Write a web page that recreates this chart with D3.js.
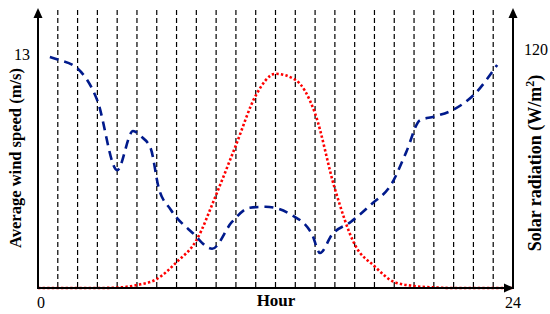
<!DOCTYPE html>
<html>
<head>
<meta charset="utf-8">
<script src="https://cdn.jsdelivr.net/npm/d3@7"></script>
<style>
body { margin: 0; background: #fff; }
svg { display: block; }
text { font-family: "Liberation Serif", "Times New Roman", serif; }
</style>
</head>
<body>
<script>
// wind speed (hour, m/s)
var windHours = [0.6, 1, 2, 3, 4, 4.8, 5.2, 5.7, 6.1, 6.7, 7.8, 8.8, 9.8, 10.7, 11.5, 12.8, 13.85, 14.25, 14.86, 15.8, 16.8, 17.9, 18.6, 19.3, 20, 21, 22, 23.2];
var windSpeed = [12.94, 12.8, 12.3, 10.5, 6.6, 8.8, 8.5, 7.8, 5.6, 4.4, 3.1, 2.2, 3.7, 4.5, 4.55, 4.1, 3.0, 1.96, 3.0, 3.7, 4.65, 5.9, 7.6, 9.4, 9.6, 10.0, 10.8, 12.5];

// solar radiation per hour (W/m2)
var solarHours = d3.range(0, 25);
var solarRad = [0, 0, 0, 0, 0.2, 1.5, 4.5, 13, 24, 47, 72, 97, 108, 105, 88, 50, 22, 11, 3, 1, 0.3, 0, 0, 0, 0];

var gridHours = d3.range(1, 24);
var xTicks = [0, 24];
var windTick = 13;
var solarTick = 120;

var width = 550, height = 314;
var x0 = 38, x1 = 513, yBase = 288, yTop = 8;

var x = d3.scaleLinear().domain([0, 24]).range([x0, x1]);
var yWind = d3.scaleLinear().domain([0, 13]).range([yBase, 56]);
var ySolar = d3.scaleLinear().domain([0, 120]).range([yBase, 50]);

var svg = d3.select("body").append("svg")
    .attr("width", width)
    .attr("height", height);

// hourly dashed lines
svg.selectAll(".grid")
    .data(gridHours)
    .enter().append("line")
    .attr("class", "grid")
    .attr("x1", function(d) { return x(d); })
    .attr("x2", function(d) { return x(d); })
    .attr("y1", yTop + 2)
    .attr("y2", yBase)
    .attr("stroke", "#000")
    .attr("stroke-width", 1.2)
    .attr("stroke-dasharray", "5,3");

// solar radiation
var solarLine = d3.line()
    .x(function(d, i) { return x(solarHours[i]); })
    .y(function(d) { return ySolar(d); })
    .curve(d3.curveMonotoneX);

svg.append("path")
    .datum(solarRad)
    .attr("d", solarLine)
    .attr("fill", "none")
    .attr("stroke", "#ff0000")
    .attr("stroke-width", 2.6)
    .attr("stroke-dasharray", "2.4,2.2");

// wind speed
var windLine = d3.line()
    .x(function(d, i) { return x(windHours[i]); })
    .y(function(d) { return yWind(d); })
    .curve(d3.curveMonotoneX);

svg.append("path")
    .datum(windSpeed)
    .attr("d", windLine)
    .attr("fill", "none")
    .attr("stroke", "#001a8c")
    .attr("stroke-width", 2.6)
    .attr("stroke-dasharray", "9,6");

// axes with arrows
var axisG = svg.append("g").attr("stroke", "#000").attr("stroke-width", 2);
axisG.append("line").attr("x1", x0).attr("x2", x0).attr("y1", yBase + 1).attr("y2", yTop + 8);
axisG.append("line").attr("x1", x1).attr("x2", x1).attr("y1", yBase + 1).attr("y2", yTop + 8);
axisG.append("line").attr("x1", x0 - 1).attr("x2", x1 - 4).attr("y1", yBase).attr("y2", yBase);

svg.append("path")
    .attr("d", "M" + (x0 - 4.5) + "," + (yTop + 10) + "L" + x0 + "," + yTop + "L" + (x0 + 4.5) + "," + (yTop + 10) + "Z")
    .attr("fill", "#000");
svg.append("path")
    .attr("d", "M" + (x1 - 4.5) + "," + (yTop + 10) + "L" + x1 + "," + yTop + "L" + (x1 + 4.5) + "," + (yTop + 10) + "Z")
    .attr("fill", "#000");
svg.append("path")
    .attr("d", "M" + (x1 - 9) + "," + (yBase - 4.5) + "L" + (x1 + 1) + "," + yBase + "L" + (x1 - 9) + "," + (yBase + 4.5) + "Z")
    .attr("fill", "#000");

// tick labels
svg.selectAll(".xt")
    .data(xTicks)
    .enter().append("text")
    .attr("x", function(d) { return x(d) + (d == 0 ? 3 : 0); })
    .attr("y", 308)
    .attr("text-anchor", "middle")
    .style("font-size", "16px")
    .text(function(d) { return d; });

svg.append("text")
    .attr("x", 22)
    .attr("y", yWind(windTick) + 4)
    .attr("text-anchor", "middle")
    .style("font-size", "16px")
    .text(windTick);

svg.append("text")
    .attr("x", 536)
    .attr("y", ySolar(solarTick) + 5)
    .attr("text-anchor", "middle")
    .style("font-size", "16px")
    .text(solarTick);

// axis titles
svg.append("text")
    .attr("x", 276)
    .attr("y", 306)
    .attr("text-anchor", "middle")
    .style("font-size", "17px")
    .style("font-weight", "bold")
    .text("Hour");

svg.append("text")
    .attr("transform", "translate(21,158) rotate(-90)")
    .attr("text-anchor", "middle")
    .style("font-size", "16.5px")
    .style("font-weight", "bold")
    .text("Average wind speed (m/s)");

var rt = svg.append("text")
    .attr("transform", "translate(541,163) rotate(-90)")
    .attr("text-anchor", "middle")
    .style("font-size", "18px")
    .style("font-weight", "bold");
rt.append("tspan").text("Solar radiation (W/m");
rt.append("tspan").attr("dy", -7).style("font-size", "12px").text("2");
rt.append("tspan").attr("dy", 7).text(")");
</script>
</body>
</html>
